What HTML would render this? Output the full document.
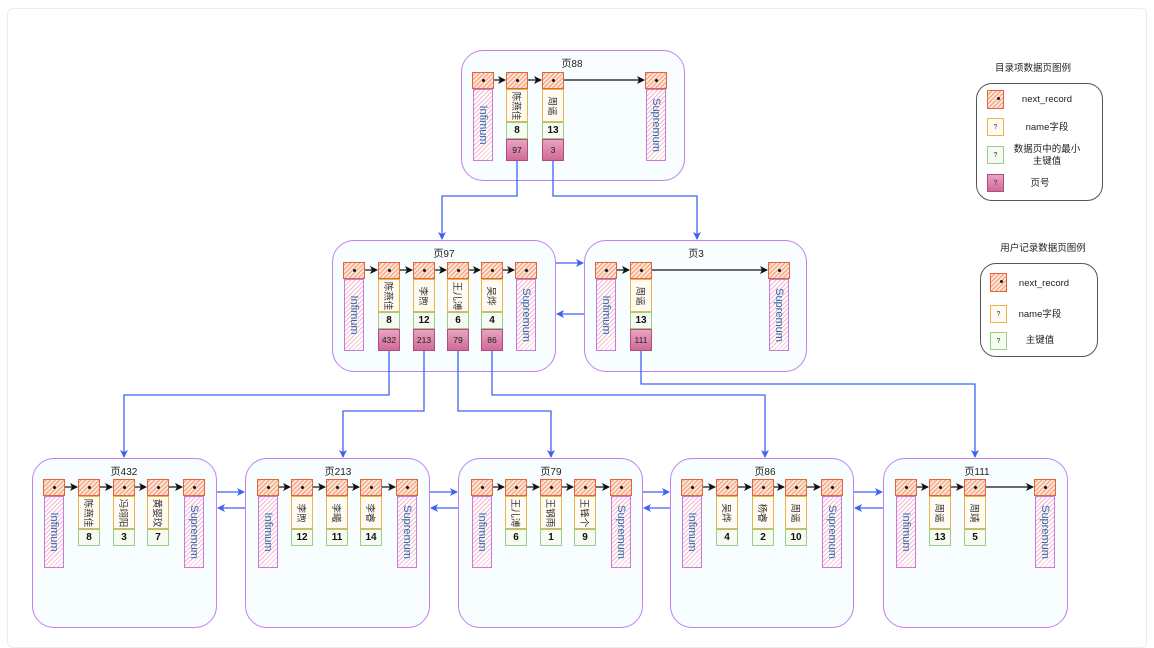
<!DOCTYPE html>
<html><head><meta charset="utf-8"><style>
*{box-sizing:border-box;margin:0;padding:0}
body{width:1154px;height:637px;background:#fff;position:relative;overflow:hidden;font-family:"Liberation Sans","Noto Sans CJK SC",sans-serif}
.card{position:absolute;left:7px;top:8px;width:1140px;height:640px;border:1px solid #ececec;border-radius:6px;background:#fff}
.pg{position:absolute;border:1.3px solid #c27ff0;border-radius:22px;background:#f8fdff}
.t{position:absolute;font-size:10px;color:#222;transform:translateX(-50%)}
.h{position:absolute;width:22px;height:17px;border:1px solid #e0663a;background:repeating-linear-gradient(-45deg,#f5a988 0 1.5px,#fde8de 1.5px 3.2px)}
.h:after{content:"";position:absolute;left:9px;top:6px;width:3px;height:3px;border-radius:50%;background:#111}
.b{position:absolute;width:20px;height:72px;border:1px solid #c77be0;background:repeating-linear-gradient(-45deg,#f4b9cf 0 1px,#fff 1px 3.2px)}
.b span{position:absolute;left:50%;top:50%;transform:translate(-50%,-50%) rotate(90deg);font-size:11px;color:#2a6aa8;white-space:nowrap}
.n{position:absolute;width:22px;height:33px;border:1px solid #e9b54a;background:#fffaf2}
.n span{position:absolute;left:50%;top:50%;transform:translate(-50%,-50%) rotate(90deg);font-size:9.5px;color:#333;white-space:nowrap}
.k{position:absolute;width:22px;height:17px;border:1px solid #9ccb8a;background:#f5fbf1;font-size:10px;font-weight:bold;text-align:center;line-height:15px;color:#111}
.p{position:absolute;width:22px;height:22px;border:1px solid #b14c7c;background:linear-gradient(#eaa3c0,#cf6a98);font-size:8.5px;text-align:center;line-height:20px;color:#222}
.lg{position:absolute;border:1.2px solid #555;border-radius:16px;background:#fff}
.lt{position:absolute;font-size:9.5px;color:#222;text-align:center;transform:translateX(-50%);white-space:nowrap;line-height:12px}
.sw{position:absolute;width:17px;height:18px;font-size:7px;text-align:center;line-height:17px;color:#333}
svg{position:absolute;left:0;top:0}
</style></head><body>
<div class="card"></div>

<div class="pg" style="left:461px;top:50px;width:224px;height:131px"></div>
<div class="pg" style="left:332px;top:240px;width:224px;height:132px"></div>
<div class="pg" style="left:584px;top:240px;width:223px;height:132px"></div>
<div class="pg" style="left:32px;top:458px;width:185px;height:170px"></div>
<div class="pg" style="left:245px;top:458px;width:185px;height:170px"></div>
<div class="pg" style="left:458px;top:458px;width:185px;height:170px"></div>
<div class="pg" style="left:670px;top:458px;width:184px;height:170px"></div>
<div class="pg" style="left:883px;top:458px;width:185px;height:170px"></div>

<div class="t" style="left:572px;top:55px">页88</div>
<div class="t" style="left:444px;top:245px">页97</div>
<div class="t" style="left:696px;top:245px">页3</div>
<div class="t" style="left:124px;top:463px">页432</div>
<div class="t" style="left:338px;top:463px">页213</div>
<div class="t" style="left:551px;top:463px">页79</div>
<div class="t" style="left:765px;top:463px">页86</div>
<div class="t" style="left:977px;top:463px">页111</div>

<div class="h" style="left:472px;top:72px"></div><div class="b" style="left:473px;top:89px"><span>Infimum</span></div>
<div class="h" style="left:506px;top:72px"></div><div class="n" style="left:506px;top:89px"><span>陈燕佳</span></div><div class="k" style="left:506px;top:122px">8</div><div class="p" style="left:506px;top:139px">97</div>
<div class="h" style="left:542px;top:72px"></div><div class="n" style="left:542px;top:89px"><span>周谣</span></div><div class="k" style="left:542px;top:122px">13</div><div class="p" style="left:542px;top:139px">3</div>
<div class="h" style="left:645px;top:72px"></div><div class="b" style="left:646px;top:89px"><span>Supremum</span></div>

<div class="h" style="left:343px;top:262px"></div><div class="b" style="left:344px;top:279px"><span>Infimum</span></div>
<div class="h" style="left:378px;top:262px"></div><div class="n" style="left:378px;top:279px"><span>陈燕佳</span></div><div class="k" style="left:378px;top:312px">8</div><div class="p" style="left:378px;top:329px">432</div>
<div class="h" style="left:413px;top:262px"></div><div class="n" style="left:413px;top:279px"><span>李煦</span></div><div class="k" style="left:413px;top:312px">12</div><div class="p" style="left:413px;top:329px">213</div>
<div class="h" style="left:447px;top:262px"></div><div class="n" style="left:447px;top:279px"><span>王儿溥</span></div><div class="k" style="left:447px;top:312px">6</div><div class="p" style="left:447px;top:329px">79</div>
<div class="h" style="left:481px;top:262px"></div><div class="n" style="left:481px;top:279px"><span>吴烨</span></div><div class="k" style="left:481px;top:312px">4</div><div class="p" style="left:481px;top:329px">86</div>
<div class="h" style="left:515px;top:262px"></div><div class="b" style="left:516px;top:279px"><span>Supremum</span></div>

<div class="h" style="left:595px;top:262px"></div><div class="b" style="left:596px;top:279px"><span>Infimum</span></div>
<div class="h" style="left:630px;top:262px"></div><div class="n" style="left:630px;top:279px"><span>周谣</span></div><div class="k" style="left:630px;top:312px">13</div><div class="p" style="left:630px;top:329px">111</div>
<div class="h" style="left:768px;top:262px"></div><div class="b" style="left:769px;top:279px"><span>Supremum</span></div>

<div class="h" style="left:43px;top:479px"></div><div class="b" style="left:44px;top:496px"><span>Infimum</span></div>
<div class="h" style="left:78px;top:479px"></div><div class="n" style="left:78px;top:496px"><span>陈燕佳</span></div><div class="k" style="left:78px;top:529px">8</div>
<div class="h" style="left:113px;top:479px"></div><div class="n" style="left:113px;top:496px"><span>冯翊阳</span></div><div class="k" style="left:113px;top:529px">3</div>
<div class="h" style="left:147px;top:479px"></div><div class="n" style="left:147px;top:496px"><span>黄婴玟</span></div><div class="k" style="left:147px;top:529px">7</div>
<div class="h" style="left:183px;top:479px"></div><div class="b" style="left:184px;top:496px"><span>Supremum</span></div>

<div class="h" style="left:257px;top:479px"></div><div class="b" style="left:258px;top:496px"><span>Infimum</span></div>
<div class="h" style="left:291px;top:479px"></div><div class="n" style="left:291px;top:496px"><span>李煦</span></div><div class="k" style="left:291px;top:529px">12</div>
<div class="h" style="left:326px;top:479px"></div><div class="n" style="left:326px;top:496px"><span>李曦</span></div><div class="k" style="left:326px;top:529px">11</div>
<div class="h" style="left:360px;top:479px"></div><div class="n" style="left:360px;top:496px"><span>李睿</span></div><div class="k" style="left:360px;top:529px">14</div>
<div class="h" style="left:396px;top:479px"></div><div class="b" style="left:397px;top:496px"><span>Supremum</span></div>

<div class="h" style="left:471px;top:479px"></div><div class="b" style="left:472px;top:496px"><span>Infimum</span></div>
<div class="h" style="left:505px;top:479px"></div><div class="n" style="left:505px;top:496px"><span>王儿溥</span></div><div class="k" style="left:505px;top:529px">6</div>
<div class="h" style="left:540px;top:479px"></div><div class="n" style="left:540px;top:496px"><span>王钢雨</span></div><div class="k" style="left:540px;top:529px">1</div>
<div class="h" style="left:574px;top:479px"></div><div class="n" style="left:574px;top:496px"><span>王锋个</span></div><div class="k" style="left:574px;top:529px">9</div>
<div class="h" style="left:610px;top:479px"></div><div class="b" style="left:611px;top:496px"><span>Supremum</span></div>

<div class="h" style="left:681px;top:479px"></div><div class="b" style="left:682px;top:496px"><span>Infimum</span></div>
<div class="h" style="left:716px;top:479px"></div><div class="n" style="left:716px;top:496px"><span>吴烨</span></div><div class="k" style="left:716px;top:529px">4</div>
<div class="h" style="left:752px;top:479px"></div><div class="n" style="left:752px;top:496px"><span>杨睿</span></div><div class="k" style="left:752px;top:529px">2</div>
<div class="h" style="left:785px;top:479px"></div><div class="n" style="left:785px;top:496px"><span>周谣</span></div><div class="k" style="left:785px;top:529px">10</div>
<div class="h" style="left:821px;top:479px"></div><div class="b" style="left:822px;top:496px"><span>Supremum</span></div>

<div class="h" style="left:895px;top:479px"></div><div class="b" style="left:896px;top:496px"><span>Infimum</span></div>
<div class="h" style="left:929px;top:479px"></div><div class="n" style="left:929px;top:496px"><span>周谣</span></div><div class="k" style="left:929px;top:529px">13</div>
<div class="h" style="left:964px;top:479px"></div><div class="n" style="left:964px;top:496px"><span>周靖</span></div><div class="k" style="left:964px;top:529px">5</div>
<div class="h" style="left:1034px;top:479px"></div><div class="b" style="left:1035px;top:496px"><span>Supremum</span></div>

<svg width="1154" height="637">
<defs>
<marker id="a" markerWidth="8" markerHeight="8" refX="7" refY="4" orient="auto" markerUnits="userSpaceOnUse"><path d="M0,0 L8,4 L0,8 L2,4z" fill="#111"/></marker>
<marker id="bl" markerWidth="8" markerHeight="8" refX="7" refY="4" orient="auto" markerUnits="userSpaceOnUse"><path d="M0,0 L8,4 L0,8 L2,4z" fill="#3d63f5"/></marker>
</defs>
<g stroke="#111" stroke-width="1.2" fill="none" marker-end="url(#a)">
<line x1="494" y1="80" x2="505" y2="80"/><line x1="528" y1="80" x2="541" y2="80"/><line x1="564" y1="80" x2="644" y2="80"/>
<line x1="365" y1="270" x2="377" y2="270"/><line x1="400" y1="270" x2="412" y2="270"/><line x1="435" y1="270" x2="446" y2="270"/><line x1="469" y1="270" x2="480" y2="270"/><line x1="503" y1="270" x2="514" y2="270"/>
<line x1="617" y1="270" x2="629" y2="270"/><line x1="652" y1="270" x2="767" y2="270"/>
<line x1="65" y1="487" x2="77" y2="487"/><line x1="100" y1="487" x2="112" y2="487"/><line x1="135" y1="487" x2="146" y2="487"/><line x1="169" y1="487" x2="182" y2="487"/>
<line x1="279" y1="487" x2="290" y2="487"/><line x1="313" y1="487" x2="325" y2="487"/><line x1="348" y1="487" x2="359" y2="487"/><line x1="382" y1="487" x2="395" y2="487"/>
<line x1="493" y1="487" x2="504" y2="487"/><line x1="527" y1="487" x2="539" y2="487"/><line x1="562" y1="487" x2="573" y2="487"/><line x1="596" y1="487" x2="609" y2="487"/>
<line x1="703" y1="487" x2="715" y2="487"/><line x1="738" y1="487" x2="751" y2="487"/><line x1="774" y1="487" x2="784" y2="487"/><line x1="807" y1="487" x2="820" y2="487"/>
<line x1="917" y1="487" x2="928" y2="487"/><line x1="951" y1="487" x2="963" y2="487"/><line x1="986" y1="487" x2="1033" y2="487"/>
</g>
<g stroke="#3d63f5" stroke-width="1.3" fill="none" marker-end="url(#bl)">
<polyline points="517,161 517,196 442,196 442,239"/>
<polyline points="553,161 553,196 697,196 697,239"/>
<line x1="556" y1="263" x2="583" y2="263"/><line x1="584" y1="314" x2="557" y2="314"/>
<polyline points="389,351 389,395 124,395 124,457"/>
<polyline points="424,351 424,411 343,411 343,457"/>
<polyline points="458,351 458,411 551,411 551,457"/>
<polyline points="492,351 492,395 765,395 765,457"/>
<polyline points="641,351 641,384 975,384 975,457"/>
<line x1="217" y1="492" x2="244" y2="492"/><line x1="245" y1="508" x2="218" y2="508"/>
<line x1="430" y1="492" x2="457" y2="492"/><line x1="458" y1="508" x2="431" y2="508"/>
<line x1="643" y1="492" x2="669" y2="492"/><line x1="670" y1="508" x2="644" y2="508"/>
<line x1="854" y1="492" x2="882" y2="492"/><line x1="883" y1="508" x2="855" y2="508"/>
</g>
</svg>

<div class="lt" style="left:1033px;top:63px">目录项数据页图例</div>
<div class="lg" style="left:976px;top:83px;width:127px;height:118px"></div>
<div class="sw h" style="left:987px;top:90px;width:17px;height:19px"></div>
<div class="lt" style="left:1047px;top:94px">next_record</div>
<div class="sw" style="left:987px;top:118px;border:1px solid #e9b54a;background:#fffaf2">?</div>
<div class="lt" style="left:1047px;top:122px">name字段</div>
<div class="sw" style="left:987px;top:146px;border:1px solid #9ccb8a;background:#f5fbf1">?</div>
<div class="lt" style="left:1047px;top:144px">数据页中的最小<br>主键值</div>
<div class="sw" style="left:987px;top:174px;border:1px solid #b14c7c;background:linear-gradient(#eaa3c0,#cf6a98)">?</div>
<div class="lt" style="left:1040px;top:178px">页号</div>

<div class="lt" style="left:1043px;top:243px">用户记录数据页图例</div>
<div class="lg" style="left:980px;top:263px;width:118px;height:94px"></div>
<div class="sw h" style="left:990px;top:273px;width:17px;height:19px"></div>
<div class="lt" style="left:1044px;top:278px">next_record</div>
<div class="sw" style="left:990px;top:305px;border:1px solid #e9b54a;background:#fffaf2">?</div>
<div class="lt" style="left:1040px;top:309px">name字段</div>
<div class="sw" style="left:990px;top:332px;border:1px solid #9ccb8a;background:#f5fbf1">?</div>
<div class="lt" style="left:1040px;top:335px">主键值</div>
</body></html>
